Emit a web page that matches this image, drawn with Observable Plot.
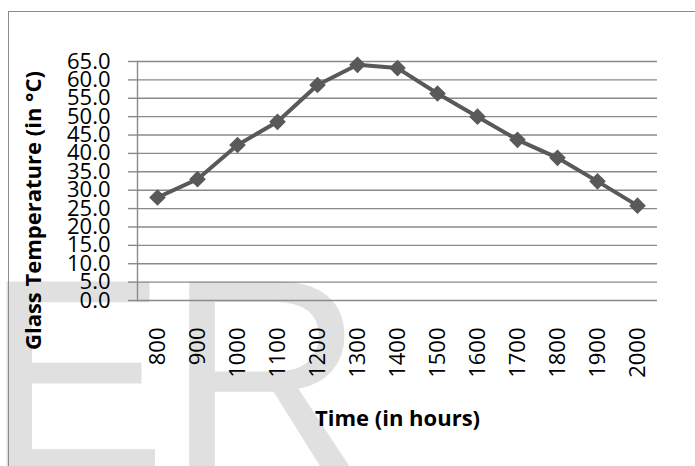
<!DOCTYPE html>
<html>
<head>
<meta charset="utf-8">
<script src="https://cdn.jsdelivr.net/npm/d3@7"></script>
<script src="https://cdn.jsdelivr.net/npm/@observablehq/plot@0.6"></script>
<style>
  html, body { margin: 0; padding: 0; background: #fff; }
  #wrap { position: relative; width: 695px; height: 466px; overflow: hidden; }
  #wrap > * { position: absolute; left: 0; top: 0; }
  #frame { left: 8px; top: 11px; width: 900px; height: 700px;
           border-left: 1.5px solid #8a8a8a; border-top: 1.5px solid #8a8a8a; }
</style>
</head>
<body>
<div id="wrap">
  <svg id="wm" width="695" height="466">
    <text x="-16" y="470" font-family="Liberation Sans, Arial, sans-serif" font-size="274" fill="#e0e0e0">ER</text>
  </svg>
  <div id="frame"></div>
  <div id="chart"></div>
</div>
<script>
// Glass temperature readings through the day
const times = ["800", "900", "1000", "1100", "1200", "1300", "1400", "1500", "1600", "1700", "1800", "1900", "2000"];
const temps = [28.0, 33.0, 42.3, 48.6, 58.6, 64.1, 63.2, 56.3, 50.0, 43.7, 38.8, 32.4, 25.8];
const yTicks = [0, 5, 10, 15, 20, 25, 30, 35, 40, 45, 50, 55, 60, 65];
const xTitle = "Time (in hours)";
const yTitle = "Glass Temperature (in °C)";

const rows = times.map((t, i) => ({time: t, temp: temps[i]}));

const grid = "#8a8a8a";
const ink = "#595959";

const chart = Plot.plot({
  width: 695,
  height: 466,
  marginLeft: 137,
  marginRight: 38,
  marginTop: 61,
  marginBottom: 166,
  style: {background: "transparent", fontFamily: "'Open Sans', sans-serif", fontSize: "22px", color: "#000", overflow: "visible"},
  x: {type: "point", domain: times, padding: 0.5},
  y: {domain: [0, 65]},
  marks: [
    Plot.ruleY(yTicks, {stroke: grid, strokeWidth: 1.4}),
    Plot.frame({anchor: "left", stroke: grid, strokeWidth: 1.4}),
    Plot.axisY(yTicks, {tickSize: 9, tickPadding: 18, stroke: grid, strokeWidth: 1.4, tickFormat: d => d.toFixed(1), label: null, fontSize: 22}),
    Plot.axisX({tickSize: 0, tickPadding: 27, tickRotate: -90, label: null, fontSize: 22}),
    Plot.line(rows, {x: "time", y: "temp", stroke: ink, strokeWidth: 4}),
    Plot.dot(rows, {x: "time", y: "temp", symbol: "diamond2", r: 7.5, fill: ink}),
    Plot.text([xTitle], {text: d => d, frameAnchor: "bottom", textAnchor: "middle", lineAnchor: "bottom", dy: 125, fontWeight: "bold", fontSize: 22}),
    Plot.text([yTitle], {text: d => d, frameAnchor: "left", textAnchor: "middle", rotate: -90, dx: -104, dy: 29.5, fontWeight: "bold", fontSize: 22})
  ]
});
document.getElementById("chart").append(chart);
</script>
</body>
</html>
